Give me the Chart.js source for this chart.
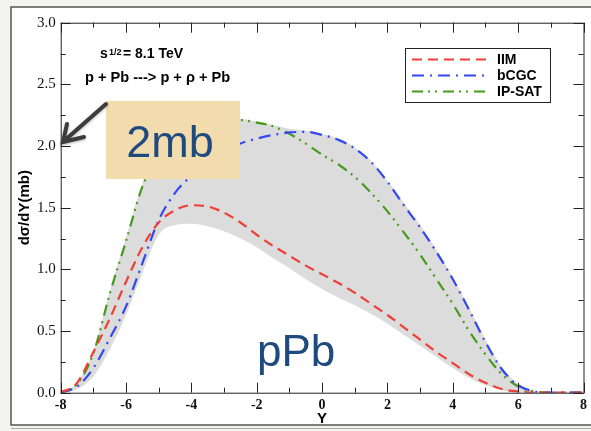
<!DOCTYPE html>
<html>
<head>
<meta charset="utf-8">
<script src="https://cdn.jsdelivr.net/npm/chart.js@4.4.0/dist/chart.umd.min.js"></script>
<style>
  html, body { margin: 0; padding: 0; background: #f3f4f0; }
  #wrap { width: 591px; height: 431px; }
</style>
</head>
<body>
<div id="wrap"><canvas id="grafico"></canvas></div>
<script>
// rapidity points
const rapidez = [-8, -7.5, -7, -6.5, -6, -5.5, -5, -4.5, -4, -3.5, -3, -2.5, -2, -1.5, -1, -0.5,
  0, 0.5, 1, 1.5, 2, 2.5, 3, 3.5, 4, 4.5, 5, 5.5, 6, 6.5, 7, 7.5, 8];

// dsigma/dY (mb) per model
const iim = [0, 0.08, 0.33, 0.60, 0.90, 1.18, 1.38, 1.48, 1.52, 1.51, 1.46, 1.38, 1.28, 1.19, 1.11, 1.03,
  0.96, 0.89, 0.81, 0.72, 0.63, 0.53, 0.43, 0.33, 0.24, 0.15, 0.08, 0.03, 0.01, 0, 0, 0, 0];
const bcgc = [0, 0.05, 0.20, 0.44, 0.70, 1.05, 1.40, 1.62, 1.76, 1.87, 1.95, 2.02, 2.06, 2.09, 2.11, 2.115,
  2.09, 2.05, 1.98, 1.87, 1.71, 1.52, 1.34, 1.14, 0.92, 0.67, 0.41, 0.19, 0.06, 0.01, 0, 0, 0];
const ipsat = [0, 0.07, 0.32, 0.80, 1.23, 1.67, 1.93, 2.07, 2.15, 2.19, 2.21, 2.21, 2.19, 2.16, 2.10, 2.02,
  1.93, 1.85, 1.75, 1.62, 1.47, 1.30, 1.12, 0.92, 0.72, 0.50, 0.31, 0.15, 0.05, 0.01, 0, 0, 0];

// gray uncertainty band
const bandaAlta = [0, 0.08, 0.34, 0.82, 1.26, 1.70, 1.95, 2.09, 2.17, 2.21, 2.22, 2.22, 2.20, 2.17, 2.14, 2.125,
  2.10, 2.06, 1.99, 1.88, 1.72, 1.54, 1.36, 1.16, 0.94, 0.69, 0.43, 0.21, 0.07, 0.01, 0, 0, 0];
const bandaBaja = [0, 0.03, 0.13, 0.35, 0.63, 0.97, 1.28, 1.36, 1.37, 1.35, 1.31, 1.25, 1.18, 1.09, 1.01, 0.92,
  0.84, 0.77, 0.71, 0.64, 0.56, 0.47, 0.38, 0.29, 0.20, 0.12, 0.06, 0.02, 0, 0, 0, 0, 0];

const modelos = ["IIM", "bCGC", "IP-SAT"];
const xTicks = [-8, -6, -4, -2, 0, 2, 4, 6, 8];
const yTicks = [0, 0.5, 1, 1.5, 2, 2.5, 3];

const puntos = (arr) => rapidez.map((x, i) => ({ x, y: arr[i] }));

const decor = {
  id: "decor",
  beforeDraw(chart) {
    const c = chart.ctx;
    c.save();
    c.fillStyle = "#f3f4f0";
    c.fillRect(0, 0, chart.width, chart.height);
    c.fillStyle = "#ffffff";
    c.fillRect(11, 7, chart.width, 419);
    c.strokeStyle = "#555";
    c.lineWidth = 1.5;
    c.strokeRect(11, 7, chart.width + 10, 418);
    c.strokeStyle = "#aaa";
    c.lineWidth = 1;
    c.beginPath();
    c.moveTo(11, 428.5);
    c.lineTo(chart.width, 428.5);
    c.stroke();
    c.restore();
  },
  afterDatasetsDraw(chart) {
    const c = chart.ctx;
    const a = chart.chartArea;
    const sx = chart.scales.x, sy = chart.scales.y;
    c.save();
    c.strokeStyle = "#222";
    c.lineWidth = 1;
    c.strokeRect(a.left + 0.5, a.top + 0.5, a.right - a.left, a.bottom - a.top);
    c.beginPath();
    for (let v = -8; v <= 8; v++) {
      const px = Math.round(sx.getPixelForValue(v)) + 0.5;
      const len = v % 2 === 0 ? 10 : 5;
      c.moveTo(px, a.bottom); c.lineTo(px, a.bottom - len);
      c.moveTo(px, a.top); c.lineTo(px, a.top + len);
    }
    for (let k = 0; k <= 12; k++) {
      const v = k * 0.25;
      const py = Math.round(sy.getPixelForValue(v)) + 0.5;
      const len = k % 2 === 0 ? 10 : 5;
      c.moveTo(a.left, py); c.lineTo(a.left + len, py);
      c.moveTo(a.right, py); c.lineTo(a.right - len, py);
    }
    c.stroke();
    c.restore();
  },
  afterDraw(chart) {
    const c = chart.ctx;
    c.save();
    // texts at top left
    c.fillStyle = "#000";
    c.textBaseline = "alphabetic";
    c.font = "bold 14px 'Liberation Sans', Arial, sans-serif";
    c.fillText("s", 100, 58);
    c.font = "bold 9px 'Liberation Sans', Arial, sans-serif";
    c.fillText("1/2", 109, 55);
    c.font = "bold 14px 'Liberation Sans', Arial, sans-serif";
    c.fillText("= 8.1 TeV", 123, 58);
    c.font = "bold 14.6px 'Liberation Sans', Arial, sans-serif";
    c.fillText("p + Pb ---> p + \u03c1 + Pb", 85, 82);

    // legend
    c.fillStyle = "#fff";
    c.fillRect(406, 48, 145, 55);
    c.strokeStyle = "#222";
    c.lineWidth = 1;
    c.strokeRect(405.5, 48.5, 145, 54);
    const filas = [59.5, 75.5, 91.5];
    chart.data.datasets.slice(0, 3).forEach((ds, i) => {
      c.strokeStyle = ds.borderColor;
      c.lineWidth = ds.borderWidth;
      c.setLineDash(ds.borderDash);
      c.beginPath();
      c.moveTo(412, filas[i]);
      c.lineTo(487, filas[i]);
      c.stroke();
      c.setLineDash([]);
      c.fillStyle = "#000";
      c.font = "bold 14px 'Liberation Sans', Arial, sans-serif";
      c.textBaseline = "middle";
      c.fillText(ds.label, 497, filas[i] + 1);
    });

    // 2mb box
    c.fillStyle = "#f2dcae";
    c.fillRect(106, 101, 134, 78);
    c.fillStyle = "#1f4a7d";
    c.font = "45px 'Liberation Sans', Arial, sans-serif";
    c.textBaseline = "alphabetic";
    c.textAlign = "center";
    c.fillText("2mb", 170, 157);

    // arrow
    c.strokeStyle = "#3c3c3c";
    c.lineWidth = 4;
    c.lineCap = "round";
    c.shadowColor = "rgba(0,0,0,0.3)";
    c.shadowBlur = 3;
    c.shadowOffsetY = 1;
    c.beginPath();
    c.moveTo(106, 104);
    c.lineTo(64, 141);
    c.moveTo(67, 124);
    c.lineTo(63, 142);
    c.lineTo(84, 137);
    c.stroke();
    c.shadowColor = "transparent";

    // pPb
    c.fillStyle = "#1f4a7d";
    c.font = "44px 'Liberation Sans', Arial, sans-serif";
    c.textAlign = "left";
    c.fillText("pPb", 257, 366);
    c.restore();
  },
};

const ctx = document.getElementById("grafico").getContext("2d");
new Chart(ctx, {
  type: "line",
  data: {
    datasets: [
      { label: modelos[0], data: puntos(iim), borderColor: "#ee4036", borderWidth: 2.2, borderDash: [10, 6], order: 0 },
      { label: modelos[1], data: puntos(bcgc), borderColor: "#3348f2", borderWidth: 2.2, borderDash: [12, 6, 2, 6], order: 0 },
      { label: modelos[2], data: puntos(ipsat), borderColor: "#469a1e", borderWidth: 2.2, borderDash: [11, 5, 2, 5, 2, 6], order: 0 },
      { label: "banda alta", data: puntos(bandaAlta), borderWidth: 0, borderColor: "rgba(0,0,0,0)", fill: false, order: 10 },
      { label: "banda baja", data: puntos(bandaBaja), borderWidth: 0, borderColor: "rgba(0,0,0,0)", backgroundColor: "#dcdcdc", fill: "-1", order: 10 },
    ],
  },
  options: {
    responsive: true,
    maintainAspectRatio: false,
    animation: false,
    layout: { padding: { left: 10, top: 22.7, right: 0, bottom: 0 } },
    elements: { point: { radius: 0 }, line: { cubicInterpolationMode: "monotone" } },
    plugins: { legend: { display: false }, tooltip: { enabled: false } },
    scales: {
      x: {
        type: "linear",
        min: -8,
        max: 8,
        afterBuildTicks: (s) => { s.ticks = xTicks.map((v) => ({ value: v })); },
        afterFit: (s) => { s.height = 38.3; },
        grid: { display: false, drawTicks: false },
        border: { display: false },
        ticks: { color: "#111", padding: 4, maxRotation: 0, font: { family: "'Liberation Serif', serif", size: 14, weight: "bold" } },
        title: { display: true, text: "Y", color: "#000", padding: { top: 0, bottom: 3 }, font: { family: "'Liberation Sans', Arial, sans-serif", size: 15, weight: "bold" } },
      },
      y: {
        min: 0,
        max: 3,
        afterBuildTicks: (s) => { s.ticks = yTicks.map((v) => ({ value: v })); },
        afterFit: (s) => { s.width = 50.7; },
        grid: { display: false, drawTicks: false },
        border: { display: false },
        ticks: { color: "#111", padding: 5, callback: (v) => v.toFixed(1), font: { family: "'Liberation Serif', serif", size: 15 } },
        title: { display: true, text: "d\u03c3/dY(mb)", color: "#000", padding: { top: 6, bottom: 0 }, font: { family: "'Liberation Sans', Arial, sans-serif", size: 15, weight: "bold" } },
      },
    },
  },
  plugins: [decor],
});
</script>
</body>
</html>
